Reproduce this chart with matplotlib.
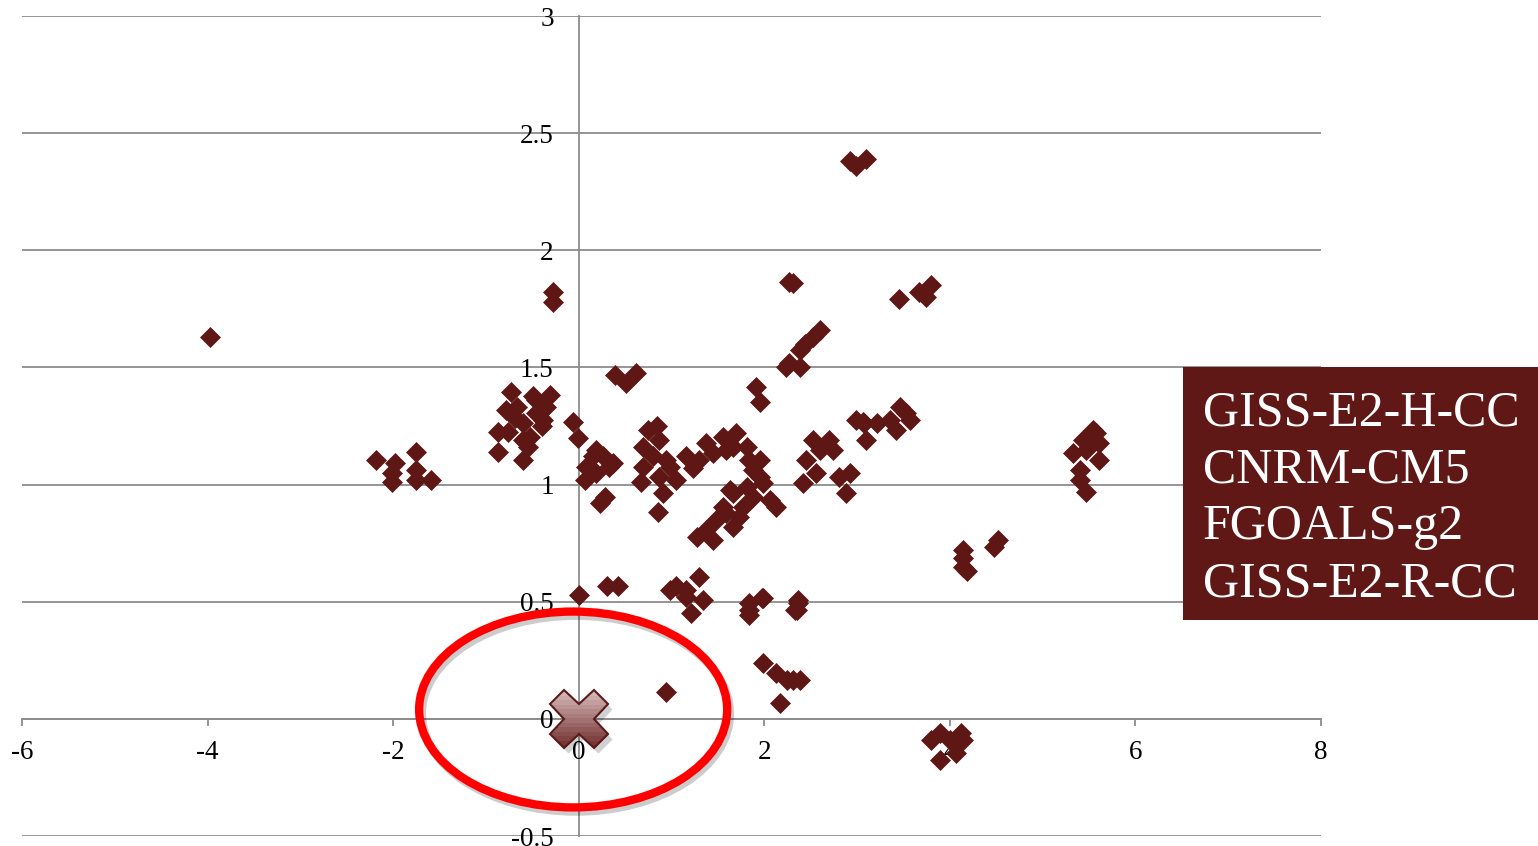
import numpy as np
import matplotlib
matplotlib.use("Agg")
import matplotlib.pyplot as plt
import matplotlib.colors as mcolors
from matplotlib.patches import Ellipse, Rectangle
from matplotlib.transforms import Affine2D, offset_copy
import matplotlib.patheffects as pe

fontsize = 19.5
dark_red = '#5E1714'
grid_grey = '#8c8c8c'

# scatter points
x_vals = [-3.97, 0.94, 2.92, 3.10, 2.99, 2.27, 2.31, 3.45, 3.67, 3.80, 3.74,
          2.52, 2.60, 2.44, 2.38, 2.27, 2.38, 2.23, -0.28, -0.28,
          -2.18, -1.975, -2.015, -2.015, -1.75, -1.75, -1.75, -1.59,
          -0.725, -0.87, -0.87, -0.765, -0.67, -0.60, -0.60, -0.60, -0.49,
          -0.456, -0.385, -0.31, -0.348, -0.528, -0.69, -0.78, -0.456, -0.40,
          -0.546, -0.06, -0.007,
          0.19, 0.33, 0.08, 0.065, 0.226, 0.28, 0.154, 0.26, 0.37, 0.19,
          0.39, 0.51, 0.62,
          0.75, 0.87, 0.69, 0.80, 0.69, 0.675, 0.87, 0.98, 1.05, 0.91, 0.855,
          0.945, 0.84,
          1.16, 1.23, 1.376, 1.30, 1.447, 1.555, 1.70, 1.81, 1.84, 1.95, 1.66,
          1.59, 1.88,
          1.66, 1.555, 1.48, 1.376, 1.27, 1.447, 1.66, 1.77, 1.88, 1.99, 2.06,
          2.13, 1.81, 1.63, 1.59, 1.73, 1.95,
          1.915, 1.95,
          2.60, 2.45, 2.42, 2.70, 2.81, 2.885, 2.99, 2.56, 2.74, 2.525, 2.92,
          3.06, 3.10, 3.22,
          3.46, 3.57, 3.35, 3.08, 3.42, 3.53,
          4.14, 4.14, 4.18, 4.52, 4.48, 4.14,
          1.97, 1.84, 2.36, 2.35, 1.30, 1.16, 1.34, 1.21, 1.84, 1.99, 1.84,
          2.36, 2.33,
          1.99, 2.13, 2.31, 2.17, 2.24, 2.38,
          0.0, 0.30, 0.42, 1.05, 1.16, 0.98,
          5.43, 5.58, 5.33, 5.47, 5.61, 5.40, 5.40, 5.47, 5.61, 5.54,
          3.80, 3.89, 3.89, 4.07, 4.12, 4.14, 4.00]
y_vals = [1.63, 0.115, 2.38, 2.39, 2.36, 1.864, 1.86, 1.79, 1.82, 1.85, 1.80,
          1.63, 1.66, 1.60, 1.575, 1.52, 1.50, 1.50, 1.82, 1.78,
          1.105, 1.09, 1.05, 1.013, 1.137, 1.063, 1.02, 1.02,
          1.397, 1.226, 1.141, 1.226, 1.333, 1.262, 1.19, 1.105, 1.376,
          1.305, 1.276, 1.383, 1.333, 1.205, 1.283, 1.319, 1.36, 1.248,
          1.162, 1.269, 1.198,
          1.148, 1.077, 1.077, 1.02, 0.92, 0.949, 1.12, 1.12, 1.09, 1.049,
          1.468, 1.433, 1.475,
          1.233, 1.19, 1.162, 1.12, 1.077, 1.013, 1.034, 1.077, 1.02, 0.963,
          0.885, 1.105, 1.248,
          1.12, 1.07, 1.177, 1.105, 1.134, 1.205, 1.219, 1.162, 1.105, 1.105,
          1.162, 1.148, 1.063,
          0.963, 0.906, 0.849, 0.807, 0.778, 0.764, 0.821, 0.906, 0.949, 1.006,
          0.935, 0.906, 0.991, 0.977, 0.878, 0.863, 1.034,
          1.418, 1.354,
          1.148, 1.105, 1.006, 1.19, 1.034, 0.963, 1.276, 1.049, 1.148, 1.19,
          1.049, 1.269, 1.19, 1.263,
          1.333, 1.276, 1.276, 1.262, 1.233, 1.305,
          0.721, 0.65, 0.629, 0.764, 0.735, 0.687,
          0.515, 0.465, 0.508, 0.465, 0.607, 0.55, 0.508, 0.451, 0.494, 0.515,
          0.444, 0.494, 0.465,
          0.238, 0.195, 0.166, 0.067, 0.166, 0.166,
          0.53, 0.565, 0.565, 0.565, 0.522, 0.55,
          1.19, 1.219, 1.134, 1.148, 1.105, 1.063, 1.02, 0.97, 1.177, 1.233,
          -0.09, -0.061, -0.175, -0.146, -0.061, -0.09, -0.09]

ref_x, ref_y = 0.0, 0.0
circle_x, circle_y, circle_w, circle_h = -0.06, 0.04, 3.32, 0.836

model_names = ["GISS-E2-H-CC", "CNRM-CM5", "FGOALS-g2", "GISS-E2-R-CC"]

x_ticks = [-6, -4, -2, 0, 2, 4, 6, 8]
y_ticks = [-0.5, 0, 0.5, 1, 1.5, 2, 2.5, 3]
y_labels = ["-0.5", "0", "0.5", "1", "1.5", "2", "2.5", "3"]

plt.rcParams['font.family'] = ['Liberation Serif', 'DejaVu Serif']

fig = plt.figure(figsize=(15.38, 8.46), dpi=100)
ax = fig.add_axes([22/1538, 10/846, 1299/1538, 820/846])
ax.set_xlim(-6, 8)
ax.set_ylim(-0.5, 3)

for yv in y_ticks:
    ax.axhline(yv, color=grid_grey, lw=1.3, zorder=1)

for s in ['top', 'right']:
    ax.spines[s].set_visible(False)
for s in ['left', 'bottom']:
    ax.spines[s].set_position(('data', 0))
    ax.spines[s].set_color(grid_grey)
    ax.spines[s].set_linewidth(1.3)
    ax.spines[s].set_zorder(1)

ax.set_xticks(x_ticks)
ax.set_xticklabels([str(v) for v in x_ticks])
ax.set_yticks(y_ticks)
ax.set_yticklabels(y_labels)
ax.tick_params(axis='x', direction='out', length=5, width=1.3, color=grid_grey,
               labelsize=fontsize, pad=10)
ax.tick_params(axis='y', length=0, labelsize=fontsize, pad=18)

ax.plot(x_vals, y_vals, linestyle='none', marker='D', markersize=10,
        markerfacecolor=dark_red, markeredgecolor=dark_red, markeredgewidth=0.5,
        zorder=3)

# red ring with a soft shadow
ax.add_patch(Ellipse((circle_x, circle_y), circle_w, circle_h, fill=False,
                     edgecolor='#ff0000', lw=6, zorder=4,
                     path_effects=[pe.SimpleLineShadow(offset=(2, -3), alpha=0.2,
                                                       shadow_color='k'),
                                   pe.Normal()]))

# X marker at the origin: shadow, gradient fill in bands, outline
ms = 42
shadow_tr = offset_copy(ax.transData, fig=fig, x=3, y=-4, units='points')
ax.plot([ref_x], [ref_y], linestyle='none', marker='X', markersize=ms,
        markerfacecolor='k', markeredgecolor='none', alpha=0.18,
        transform=shadow_tr, zorder=5)

cx, cy = ax.transData.transform((ref_x, ref_y))
half = ms * fig.dpi / 72 / 2 + 2
n_band = 14
top_col = np.array(mcolors.to_rgb('#dcc1c1'))
bot_col = np.array(mcolors.to_rgb('#6f2b2b'))
for i in range(n_band):
    frac = i / (n_band - 1)
    col = top_col * (1 - frac) + bot_col * frac
    band_h = 2 * half / n_band
    clip = Rectangle((cx - half, cy + half - (i + 1) * band_h), 2 * half,
                     band_h + 0.6, transform=None)
    ln, = ax.plot([ref_x], [ref_y], linestyle='none', marker='X', markersize=ms,
                  markerfacecolor=col, markeredgecolor='none', zorder=6)
    ln.set_clip_path(clip)
ax.plot([ref_x], [ref_y], linestyle='none', marker='X', markersize=ms,
        markerfacecolor='none', markeredgecolor='#5a1a1a', markeredgewidth=1.5,
        zorder=7)

fig.patches.append(Rectangle((1183/1538, (846-620)/846), (1538-1183)/1538,
                             253/846, transform=fig.transFigure,
                             facecolor='#601816', edgecolor='none'))
baselines = [425, 482, 539, 596]
for name, b in zip(model_names, baselines):
    fig.text(1203/1538, (846-b)/846, name, color='white', fontsize=36,
             va='baseline', ha='left')

fig.savefig("out.png", dpi=100)
